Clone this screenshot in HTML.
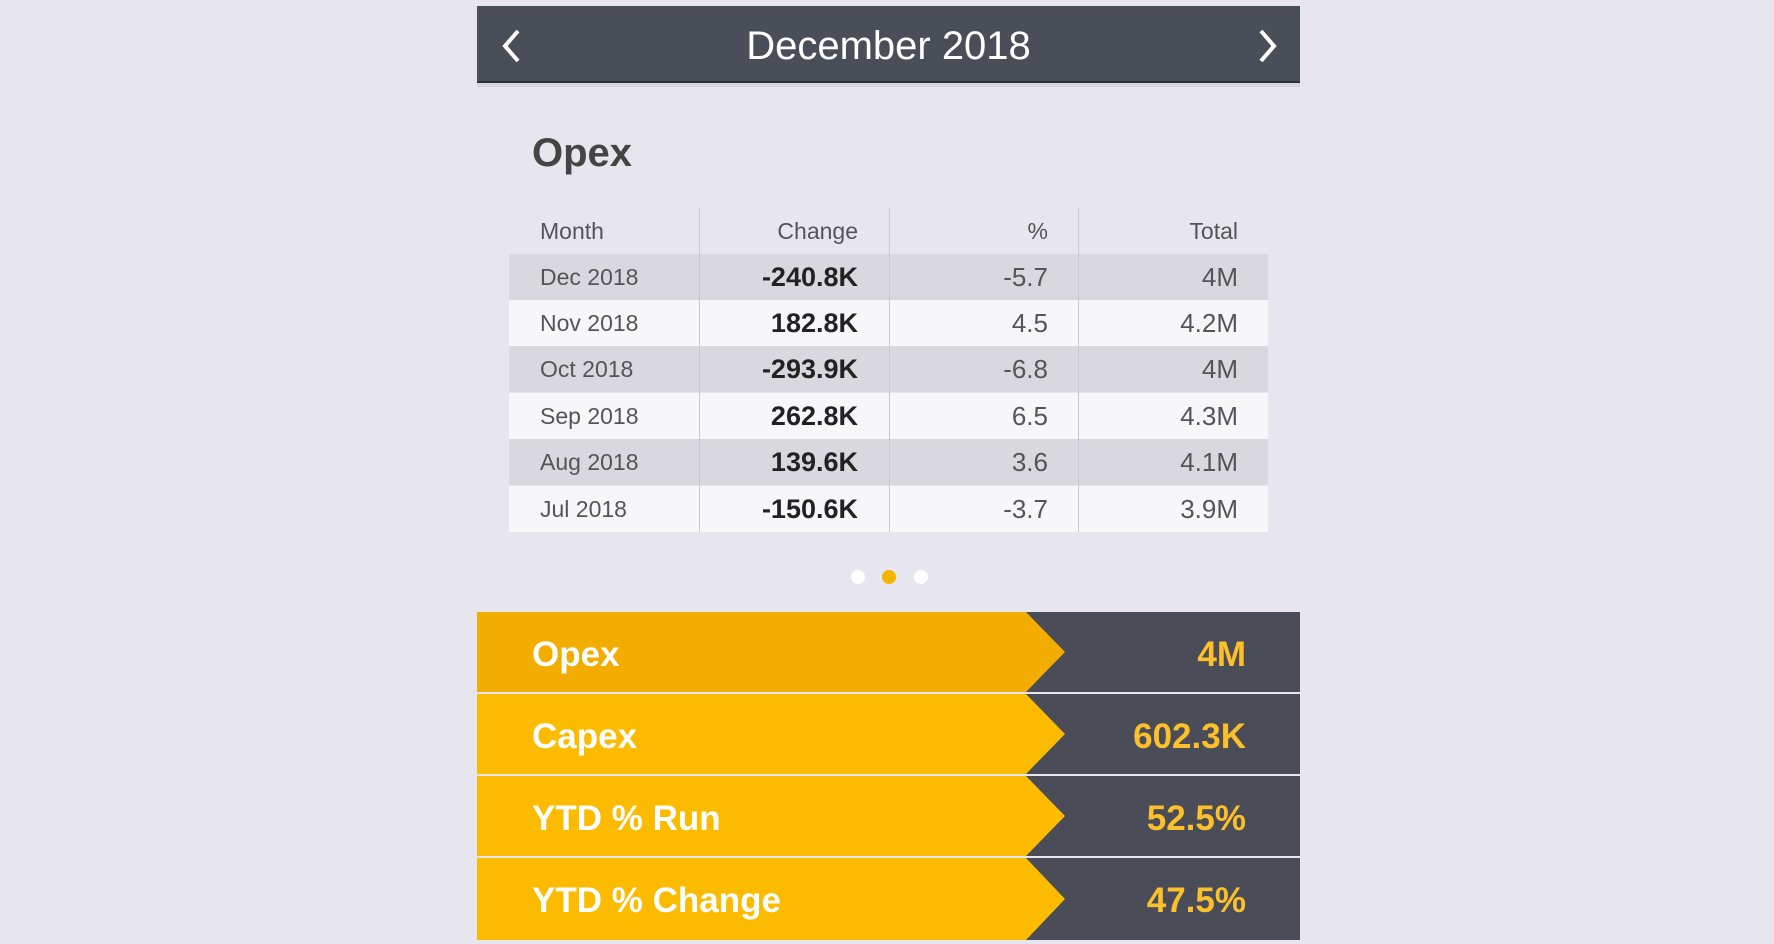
<!DOCTYPE html>
<html><head><style>
body{margin:0;width:1774px;height:944px;background:#e7e5ed;position:relative;overflow:hidden;font-family:"Liberation Sans",sans-serif;}
.a{position:absolute;}
.hdr{left:477px;top:6px;width:823px;height:75px;background:#4a4e59;border-bottom:2px solid #2f323a;}
.shadow{left:477px;top:83px;width:823px;height:4px;background:#d6d5dc;}
.t{color:#fff;font-size:40px;top:9px;height:75px;line-height:75px;width:823px;left:477px;text-align:center;}
.row{left:509px;width:759px;height:46px;}
.c{position:absolute;top:0;height:46px;line-height:46px;}
.m{left:31px;font-size:23px;color:#555;}
.ch{right:410px;font-size:27px;font-weight:bold;color:#222;}
.p{right:220px;font-size:26px;color:#555;}
.tt{right:30px;font-size:26px;color:#555;}
.div{top:208px;width:1px;height:324px;background:#c9c8ce;}
.dot{width:14px;height:14px;border-radius:50%;background:#fff;top:570px;}
.bar{left:477px;width:823px;height:80px;}
.lbl{position:absolute;left:55px;top:3px;line-height:80px;font-size:35px;font-weight:bold;color:#fff;}
.val{position:absolute;right:54px;top:3px;line-height:80px;font-size:35px;font-weight:bold;color:#fcc02a;}
</style></head><body>
<div class="a hdr"></div>
<div class="a shadow"></div>
<div class="a t">December 2018</div>
<svg class="a" style="left:500px;top:28px" width="24" height="36"><polyline points="18,3 5,18 18,33" fill="none" stroke="#fff" stroke-width="4"/></svg>
<svg class="a" style="left:1256px;top:28px" width="24" height="36"><polyline points="5,3 18,18 5,33" fill="none" stroke="#fff" stroke-width="4"/></svg>
<div class="a" style="left:532px;top:131px;font-size:40px;color:#444;font-weight:bold;">Opex</div>

<div class="a row" style="top:208px"><div class="c m" style="top:0">Month</div><div class="c" style="right:410px;font-size:23px;color:#555">Change</div><div class="c" style="right:220px;font-size:23px;color:#555">%</div><div class="c" style="right:30px;font-size:23px;color:#555">Total</div></div>
<div class="a row" style="top:254px;background:#d9d8de"><div class="c m">Dec 2018</div><div class="c ch">-240.8K</div><div class="c p">-5.7</div><div class="c tt">4M</div></div>
<div class="a row" style="top:300px;background:#f7f6f9"><div class="c m">Nov 2018</div><div class="c ch">182.8K</div><div class="c p">4.5</div><div class="c tt">4.2M</div></div>
<div class="a row" style="top:346px;background:#d9d8de"><div class="c m">Oct 2018</div><div class="c ch">-293.9K</div><div class="c p">-6.8</div><div class="c tt">4M</div></div>
<div class="a row" style="top:393px;background:#f7f6f9"><div class="c m">Sep 2018</div><div class="c ch">262.8K</div><div class="c p">6.5</div><div class="c tt">4.3M</div></div>
<div class="a row" style="top:439px;background:#d9d8de"><div class="c m">Aug 2018</div><div class="c ch">139.6K</div><div class="c p">3.6</div><div class="c tt">4.1M</div></div>
<div class="a row" style="top:486px;background:#f7f6f9"><div class="c m">Jul 2018</div><div class="c ch">-150.6K</div><div class="c p">-3.7</div><div class="c tt">3.9M</div></div>
<div class="a div" style="left:699px"></div>
<div class="a div" style="left:889px"></div>
<div class="a div" style="left:1078px"></div>

<div class="a dot" style="left:851px"></div>
<div class="a dot" style="left:882px;background:#f5b400"></div>
<div class="a dot" style="left:914px"></div>

<svg class="a" style="left:477px;top:612px" width="823" height="328">
<g>
<rect x="0" y="0" width="823" height="80" fill="#4a4d57"/><polygon points="0,0 549,0 588,40 549,80 0,80" fill="#f2ad00"/>
<rect x="0" y="82" width="823" height="80" fill="#4a4d57"/><polygon points="0,82 549,82 588,122 549,162 0,162" fill="#fdbb00"/>
<rect x="0" y="164" width="823" height="80" fill="#4a4d57"/><polygon points="0,164 549,164 588,204 549,244 0,244" fill="#fdbb00"/>
<rect x="0" y="246" width="823" height="82" fill="#4a4d57"/><polygon points="0,246 549,246 588,287 549,328 0,328" fill="#fdbb00"/>
</g></svg>
<div class="a bar" style="top:612px"><div class="lbl">Opex</div><div class="val">4M</div></div>
<div class="a bar" style="top:694px"><div class="lbl">Capex</div><div class="val">602.3K</div></div>
<div class="a bar" style="top:776px"><div class="lbl">YTD % Run</div><div class="val">52.5%</div></div>
<div class="a bar" style="top:858px"><div class="lbl">YTD % Change</div><div class="val">47.5%</div></div>
</body></html>
